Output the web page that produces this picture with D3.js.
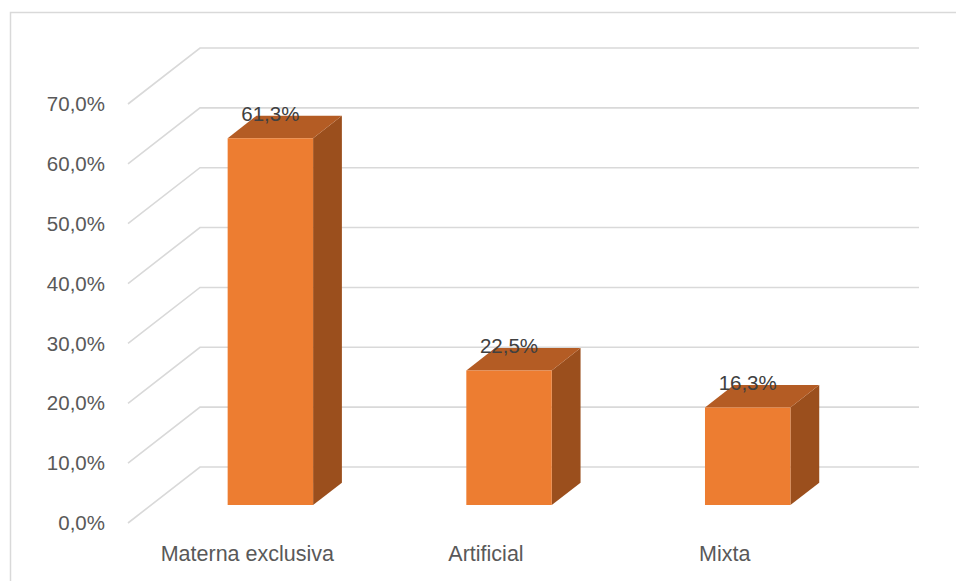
<!DOCTYPE html>
<html lang="es">
<head>
    <meta charset="UTF-8">
    <title>Tipo de lactancia</title>
    <style>
        body { margin: 0; background: #fff; }
        text { font-family: "Liberation Sans", Arial, sans-serif; fill: #595959; }
    </style>
</head>
<body>
<svg id="chart"></svg>
<script src="https://d3js.org/d3.v7.min.js"></script>
<script>
    // data
    var categories = ["Materna exclusiva", "Artificial", "Mixta"];
    var values = [0.613, 0.225, 0.163];
    var valueLabels = ["61,3%", "22,5%", "16,3%"];
    var ticks = [0, 0.1, 0.2, 0.3, 0.4, 0.5, 0.6, 0.7];
    var tickLabels = ["0,0%", "10,0%", "20,0%", "30,0%", "40,0%", "50,0%", "60,0%", "70,0%"];

    var width = 956;
    var height = 581;

    // floor front-left corner, and depth vector of the 3d box
    var floorY = 523;
    var depthX = 72;
    var depthY = -56;
    var barFront = 0.32;   // bars sit between these depth fractions
    var barBack = 0.72;

    var xScale = d3.scaleBand().domain(categories).range([128, 844])
        .paddingInner(0.642).paddingOuter(0.321);
    var yScale = d3.scaleLinear().domain([0, 0.7]).range([0, 419]);

    // x is front x, v is value, z is depth fraction
    function proj(x, v, z) {
        return [x + z * depthX, floorY - yScale(v) + z * depthY];
    }

    var svg = d3.select("#chart")
        .attr("width", width)
        .attr("height", height);

    // outer frame (right/bottom fall outside the picture)
    svg.append("rect")
        .attr("x", 10.5).attr("y", 12.5)
        .attr("width", 980).attr("height", 600)
        .attr("fill", "none")
        .attr("stroke", "#d9d9d9")
        .attr("stroke-width", 1.5);

    // gridlines: side wall diagonal + back wall
    var wallRight = xScale.range()[1] + depthX + 3;
    svg.append("g").selectAll("path")
        .data(ticks)
        .enter().append("path")
        .attr("d", function (t) {
            var a = proj(xScale.range()[0], t, 0);
            var b = proj(xScale.range()[0], t, 1);
            return "M" + a + "L" + b + "L" + [wallRight, b[1]];
        })
        .attr("fill", "none")
        .attr("stroke", "#d9d9d9")
        .attr("stroke-width", 1.6);

    // tick labels
    svg.append("g").selectAll("text")
        .data(ticks)
        .enter().append("text")
        .attr("x", 105)
        .attr("y", function (t) { return proj(0, t, 0)[1]; })
        .attr("dy", "0.35em")
        .attr("text-anchor", "end")
        .style("font-size", "20.5px")
        .text(function (t, i) { return tickLabels[i]; });

    // bars
    var bars = svg.append("g").selectAll("g")
        .data(values)
        .enter().append("g");

    function face(pts) {
        return "M" + pts.join("L") + "Z";
    }

    // side face
    bars.append("path")
        .attr("d", function (d, i) {
            var x1 = xScale(categories[i]) + xScale.bandwidth();
            return face([proj(x1, 0, barFront), proj(x1, 0, barBack), proj(x1, d, barBack), proj(x1, d, barFront)]);
        })
        .attr("fill", "#9b4f1d");

    // top face
    bars.append("path")
        .attr("d", function (d, i) {
            var x0 = xScale(categories[i]);
            var x1 = x0 + xScale.bandwidth();
            return face([proj(x0, d, barFront), proj(x1, d, barFront), proj(x1, d, barBack), proj(x0, d, barBack)]);
        })
        .attr("fill", "#b45c24");

    // front face
    bars.append("path")
        .attr("d", function (d, i) {
            var x0 = xScale(categories[i]);
            var x1 = x0 + xScale.bandwidth();
            return face([proj(x0, 0, barFront), proj(x1, 0, barFront), proj(x1, d, barFront), proj(x0, d, barFront)]);
        })
        .attr("fill", "#ed7d31");

    // value labels
    bars.append("text")
        .attr("x", function (d, i) { return proj(xScale(categories[i]) + xScale.bandwidth() / 2, d, barFront)[0]; })
        .attr("y", function (d, i) { return proj(0, d, barFront)[1] - 17.5; })
        .attr("text-anchor", "middle")
        .style("font-size", "20.5px")
        .style("fill", "#404040")
        .text(function (d, i) { return valueLabels[i]; });

    // category labels
    svg.append("g").selectAll("text")
        .data(categories)
        .enter().append("text")
        .attr("x", function (c) { return xScale(c) + xScale.bandwidth() / 2; })
        .attr("y", 561)
        .attr("text-anchor", "middle")
        .style("font-size", "21.5px")
        .text(function (c) { return c; });
</script>
</body>
</html>
